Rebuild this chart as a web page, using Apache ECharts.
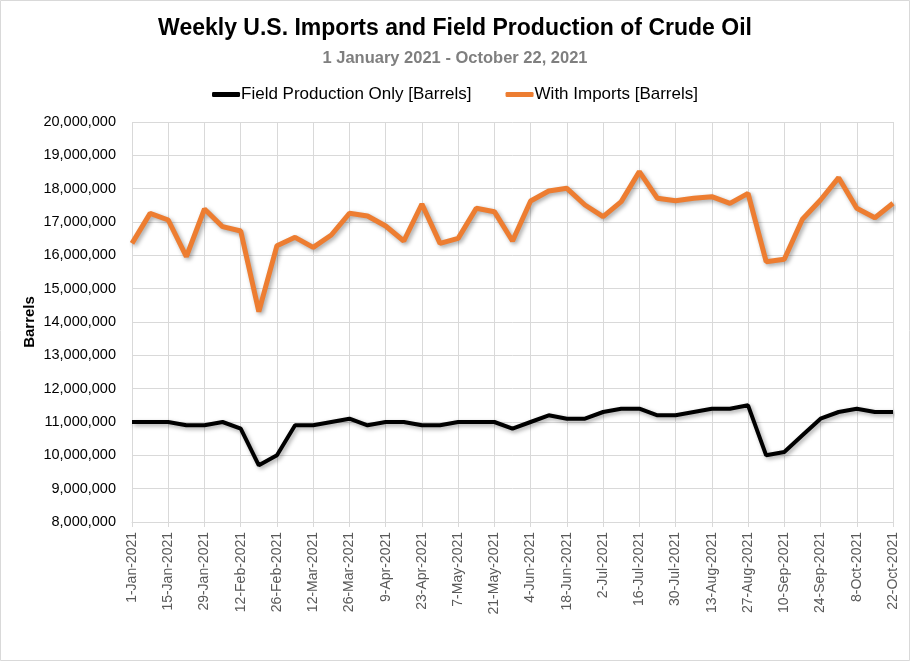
<!DOCTYPE html>
<html>
<head>
<meta charset="utf-8">
<script src="https://cdn.jsdelivr.net/npm/echarts@6/dist/echarts.min.js"></script>
<style>
html,body{margin:0;padding:0;background:#fff;}
#chart{width:910px;height:661px;}
</style>
</head>
<body>
<div id="chart"></div>
<script>
const titleText = 'Weekly U.S. Imports and Field Production of Crude Oil';
const subtitleText = '1 January 2021 - October 22, 2021';
const seriesNames = ['Field Production Only [Barrels]', 'With Imports [Barrels]'];
const yAxisName = 'Barrels';

const weeks = [
  '1-Jan-2021','8-Jan-2021','15-Jan-2021','22-Jan-2021','29-Jan-2021',
  '5-Feb-2021','12-Feb-2021','19-Feb-2021','26-Feb-2021',
  '5-Mar-2021','12-Mar-2021','19-Mar-2021','26-Mar-2021',
  '2-Apr-2021','9-Apr-2021','16-Apr-2021','23-Apr-2021','30-Apr-2021',
  '7-May-2021','14-May-2021','21-May-2021','28-May-2021',
  '4-Jun-2021','11-Jun-2021','18-Jun-2021','25-Jun-2021',
  '2-Jul-2021','9-Jul-2021','16-Jul-2021','23-Jul-2021','30-Jul-2021',
  '6-Aug-2021','13-Aug-2021','20-Aug-2021','27-Aug-2021',
  '3-Sep-2021','10-Sep-2021','17-Sep-2021','24-Sep-2021',
  '1-Oct-2021','8-Oct-2021','15-Oct-2021','22-Oct-2021'
];

const fieldProduction = [
  11000000,11000000,11000000,10900000,10900000,
  11000000,10800000,9700000,10000000,
  10900000,10900000,11000000,11100000,
  10900000,11000000,11000000,10900000,10900000,
  11000000,11000000,11000000,10800000,
  11000000,11200000,11100000,11100000,
  11300000,11400000,11400000,11200000,11200000,
  11300000,11400000,11400000,11500000,
  10000000,10100000,10600000,11100000,
  11300000,11400000,11300000,11300000
];

const withImports = [
  16360000,17260000,17060000,15960000,17390000,
  16860000,16730000,14310000,16290000,
  16540000,16240000,16610000,17260000,
  17180000,16880000,16430000,17540000,16360000,
  16510000,17410000,17310000,16430000,
  17630000,17930000,18010000,17510000,
  17160000,17610000,18510000,17710000,17640000,
  17710000,17760000,17560000,17860000,
  15810000,15880000,17080000,17660000,
  18330000,17410000,17130000,17560000
];

const yMin = 8000000, yMax = 20000000, yStep = 1000000;

const chart = echarts.init(document.getElementById('chart'), null, {renderer: 'canvas'});
const fmt = v => v.toLocaleString('en-US');
const FONT = 'Liberation Sans, Arial, sans-serif';

chart.setOption({
  backgroundColor: '#fff',
  animation: false,
  title: [
    {
      text: titleText, left: 'center', top: 12,
      textStyle: {fontFamily: FONT, fontWeight: 'bold', fontSize: 23, color: '#000'}
    },
    {
      text: subtitleText, left: 'center', top: 45,
      textStyle: {fontFamily: FONT, fontWeight: 'bold', fontSize: 16.5, color: '#7f7f7f'}
    }
  ],
  legend: {
    top: 81, left: 'center', icon: 'roundRect', itemWidth: 28, itemHeight: 5, itemGap: 34,
    textStyle: {fontFamily: FONT, fontSize: 17, color: '#000', padding: [0,0,0,-4]},
    data: seriesNames
  },
  grid: {left: 132, right: 17, top: 122, bottom: 139, containLabel: false},
  xAxis: {
    type: 'category', data: weeks, boundaryGap: false,
    axisLine: {show: true, lineStyle: {color: '#d9d9d9', width: 1}},
    axisTick: {show: true, interval: 1, length: 5, lineStyle: {color: '#d9d9d9'}},
    splitLine: {show: true, interval: 1, lineStyle: {color: '#d9d9d9', width: 1}},
    axisLabel: {interval: 1, rotate: 90, margin: 10, fontFamily: FONT, fontSize: 14, color: '#595959'}
  },
  yAxis: {
    type: 'value', min: yMin, max: yMax, interval: yStep,
    axisLine: {show: false}, axisTick: {show: false},
    splitLine: {show: true, lineStyle: {color: '#d9d9d9', width: 1}},
    axisLabel: {margin: 16, formatter: fmt, fontFamily: FONT, fontSize: 14.5, color: '#000'}
  },
  graphic: [
    {type: 'rect', shape: {x: 0.5, y: 0.5, width: 909, height: 660}, style: {fill: 'none', stroke: '#d9d9d9', lineWidth: 1}, silent: true},
    {type: 'text', x: 30, y: 322, rotation: Math.PI / 2,
     style: {text: yAxisName, fontFamily: FONT, fontWeight: 'bold', fontSize: 15, fill: '#000', align: 'center', verticalAlign: 'middle'}}
  ],
  series: [
    {
      name: seriesNames[0], type: 'line', data: fieldProduction, symbol: 'none', z: 3,
      itemStyle: {color: '#000'},
      lineStyle: {color: '#000', width: 4, shadowColor: 'rgba(0,0,0,0.35)', shadowBlur: 4, shadowOffsetX: 2, shadowOffsetY: 2}
    },
    {
      name: seriesNames[1], type: 'line', data: withImports, symbol: 'none', z: 4,
      itemStyle: {color: '#ED7D31'},
      lineStyle: {color: '#ED7D31', width: 5, shadowColor: 'rgba(0,0,0,0.35)', shadowBlur: 4, shadowOffsetX: 2, shadowOffsetY: 2}
    }
  ]
});
</script>
</body>
</html>
